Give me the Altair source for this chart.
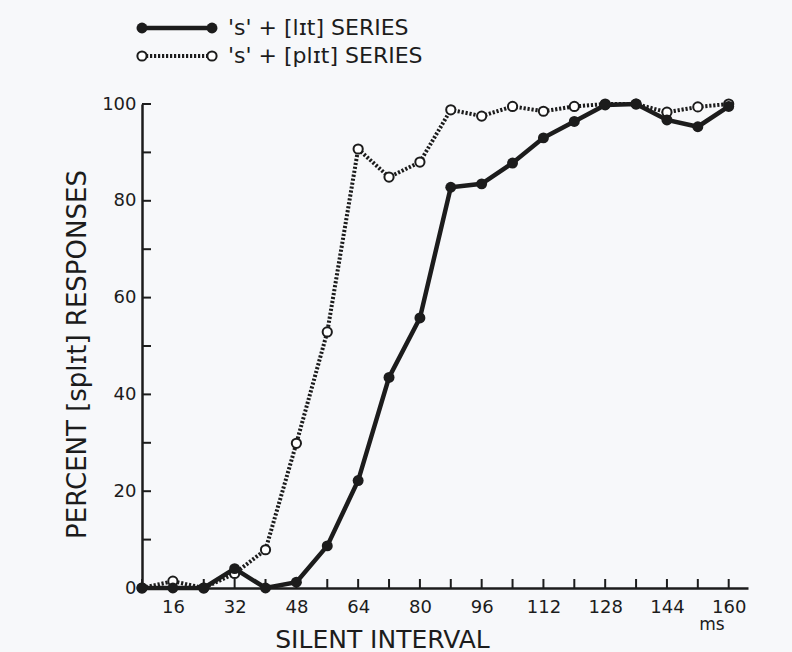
import altair as alt
import pandas as pd

# ---- data ----
interval_ms = [8, 16, 24, 32, 40, 48, 56, 64, 72, 80, 88, 96, 104, 112, 120, 128, 136, 144, 152, 160]
lit_pct = [0, 0, 0, 4, 0, 1.2, 8.7, 22.2, 43.5, 55.8, 82.8, 83.5, 87.8, 93.0, 96.4, 99.8, 100, 96.7, 95.3, 99.5]
plit_pct = [0, 1.4, 0, 3, 7.9, 29.9, 52.9, 90.7, 84.9, 88.0, 98.8, 97.5, 99.5, 98.5, 99.5, 100, 100, 98.3, 99.4, 100]

series_labels = ["'s' + [lɪt] SERIES", "'s' + [plɪt] SERIES"]
x_title = "SILENT INTERVAL"
y_title = "PERCENT [splɪt] RESPONSES"
unit_label = "ms"

x_tick_values = list(range(8, 161, 8))
x_label_values = list(range(16, 161, 16))
y_tick_values = list(range(0, 101, 10))
y_label_values = list(range(0, 101, 20))

# ---- style ----
INK = "#1c1c1c"
BG = "#f7f8fa"
FONT = "DejaVu Sans"
W, H = 606, 484
DOT = [2.2, 1.8]

lit_df = pd.DataFrame({"ms": interval_ms, "pct": lit_pct, "series": series_labels[0]})
plit_df = pd.DataFrame({"ms": interval_ms, "pct": plit_pct, "series": series_labels[1]})
xt_df = pd.DataFrame({"ms": x_tick_values})
yt_df = pd.DataFrame({"pct": y_tick_values})

xs = alt.Scale(domain=[8, 165], nice=False, zero=False)
ys = alt.Scale(domain=[0, 100], nice=False)

x_axis = alt.Axis(
    values=x_label_values, ticks=False, grid=False,
    domainColor=INK, domainWidth=2.5,
    labelFont=FONT, labelFontSize=18, labelColor=INK, labelPadding=10,
    title=x_title, titleFont=FONT, titleFontSize=25, titleFontWeight="normal",
    titleColor=INK, titleX=240, titleY=59, titleAlign="center", titleBaseline="alphabetic",
)
y_axis = alt.Axis(
    values=y_label_values, ticks=False, grid=False,
    domainColor=INK, domainWidth=2.5,
    labelFont=FONT, labelFontSize=18, labelColor=INK, labelPadding=6,
    title=y_title, titleFont=FONT, titleFontSize=26, titleFontWeight="normal",
    titleColor=INK, titleX=-65, titleY=250, titleAngle=-90,
    titleAlign="center", titleBaseline="middle",
)

X = alt.X("ms:Q", scale=xs, axis=x_axis)
Y = alt.Y("pct:Q", scale=ys, axis=y_axis)

open_style = dict(shape="circle", filled=True, fill="white", stroke=INK,
                  strokeWidth=2, size=85, opacity=1)
solid_style = dict(shape="circle", filled=True, color=INK, size=120, opacity=1)

plit_line = alt.Chart(plit_df).mark_line(
    color=INK, strokeWidth=4, strokeDash=DOT
).encode(x=X, y=Y)
plit_pts = alt.Chart(plit_df).mark_point(**open_style).encode(x=X, y=Y)
lit_line = alt.Chart(lit_df).mark_line(color=INK, strokeWidth=4.5).encode(x=X, y=Y)
lit_pts = alt.Chart(lit_df).mark_point(**solid_style).encode(x=X, y=Y)

x_ticks = alt.Chart(xt_df).mark_rule(color=INK, strokeWidth=2).encode(
    x=X, y=alt.value(H), y2=alt.value(H - 9)
)
y_ticks = alt.Chart(yt_df).mark_rule(color=INK, strokeWidth=2).encode(
    y=Y, x=alt.value(0), x2=alt.value(9)
)

unit = alt.Chart(pd.DataFrame({"t": [unit_label]})).mark_text(
    font=FONT, fontSize=17, color=INK, align="center", baseline="middle"
).encode(text="t:N", x=alt.value(570), y=alt.value(521))

# ---- legend (drawn by hand to mimic the printed key) ----
leg_rows = [-76, -48]
leg_df = pd.DataFrame({"label": series_labels})
legend_layers = []
for i, ly in enumerate(leg_rows):
    d = leg_df.iloc[[i]]
    if i == 0:
        seg = alt.Chart(d).mark_rule(color=INK, strokeWidth=4.5).encode(
            x=alt.value(0), x2=alt.value(70), y=alt.value(ly))
        end_mark = solid_style
    else:
        seg = alt.Chart(d).mark_rule(color=INK, strokeWidth=4, strokeDash=DOT).encode(
            x=alt.value(0), x2=alt.value(70), y=alt.value(ly))
        end_mark = open_style
    p1 = alt.Chart(d).mark_point(**end_mark).encode(x=alt.value(0), y=alt.value(ly))
    p2 = alt.Chart(d).mark_point(**end_mark).encode(x=alt.value(70), y=alt.value(ly))
    txt = alt.Chart(d).mark_text(
        font=FONT, fontSize=22, color=INK, align="left", baseline="middle"
    ).encode(text="label:N", x=alt.value(86), y=alt.value(ly))
    legend_layers += [seg, p1, p2, txt]

chart = alt.layer(
    x_ticks, y_ticks, plit_line, plit_pts, lit_line, lit_pts, unit, *legend_layers
).properties(
    width=W, height=H,
    padding={"left": 142, "top": 104, "right": 44, "bottom": 64},
    autosize=alt.AutoSizeParams(type="none"),
    background=BG,
).configure_view(stroke=None)

chart.save("out.html", embed_options={"renderer": "svg", "actions": False})
